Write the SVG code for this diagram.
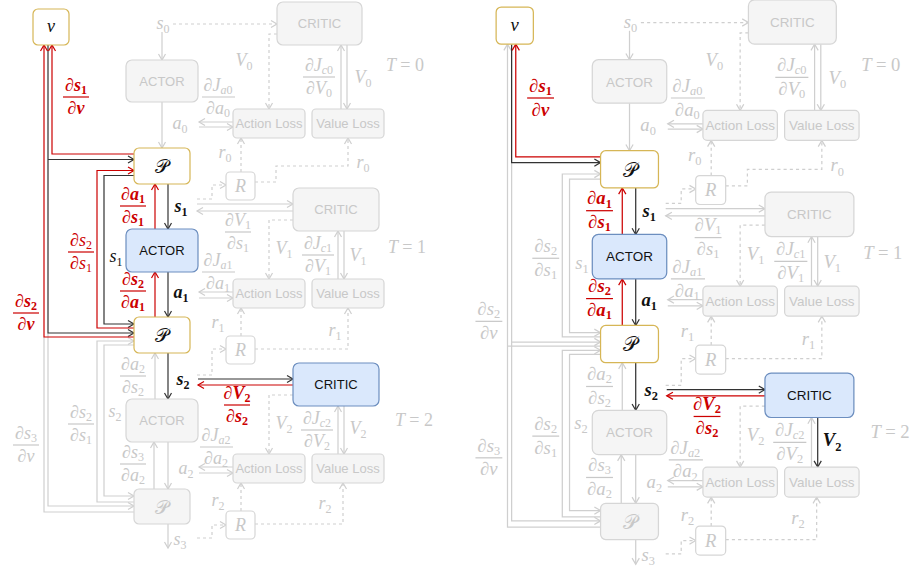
<svg xmlns="http://www.w3.org/2000/svg" width="912" height="571" viewBox="0 0 912 571">
<style>
.bg{fill:#fff}
.nd rect{stroke-width:1.2}
.gn rect{fill:#f5f5f5;stroke:#d6d6d6}
.wn rect{fill:#fff;stroke:#d6d6d6}
.au rect{fill:#fff;stroke:#d6b656}
.bl rect{fill:#dae8fc;stroke:#6c8ebf}
.sf{font-family:"Liberation Sans",Arial,sans-serif;font-size:13px;text-anchor:middle}
.gn .sf,.wn .m{fill:#c8c8c8}
.bl .sf{fill:#111}
.m{font-family:"Liberation Serif","DejaVu Serif",serif;font-style:italic;font-size:18px;text-anchor:middle}
.sb{font-size:12px;font-style:normal}
.si{font-style:italic}
.cp{font-family:"DejaVu Serif","DejaVu Sans","Noto Sans",serif;font-size:19px;font-style:normal;text-anchor:middle}
.gt{fill:#c8c8c8}.kt{fill:#111}.rt{fill:#cc0000}
.b{font-weight:bold}
.fl{stroke-width:1.2}
.gt line,line.gt{stroke:#c8c8c8}
.rt line,line.rt{stroke:#cc0000}
.c path{fill:none;stroke-width:1.2}
.cg path{stroke:#cfcfcf}
.cd path{stroke:#cfcfcf;stroke-dasharray:3 3}
.ck path{stroke:#333}
.cr path{stroke:#cc0000}
</style>
<defs>
<marker id="ag" viewBox="-8 -5 10 10" refX="0" refY="0" markerWidth="10" markerHeight="10" markerUnits="userSpaceOnUse" orient="auto"><path d="M-6,-3.5 L0,0 L-6,3.5" fill="none" stroke="#cfcfcf" stroke-width="1.2"/></marker>
<marker id="ak" viewBox="-8 -5 10 10" refX="0" refY="0" markerWidth="10" markerHeight="10" markerUnits="userSpaceOnUse" orient="auto"><path d="M-6,-3.5 L0,0 L-6,3.5" fill="none" stroke="#333" stroke-width="1.2"/></marker>
<marker id="ar" viewBox="-8 -5 10 10" refX="0" refY="0" markerWidth="10" markerHeight="10" markerUnits="userSpaceOnUse" orient="auto"><path d="M-6,-3.5 L0,0 L-6,3.5" fill="none" stroke="#cc0000" stroke-width="1.2"/></marker>
</defs>
<rect class="bg" width="912" height="571"/>

<!-- ================= LEFT PANEL ================= -->
<g id="left-panel">
<g id="L-connectors" class="c">
 <g class="cg">
  <path d="M162,32 V60" marker-end="url(#ag)"/>
  <path d="M162,102 V148" marker-end="url(#ag)"/>
  <path d="M233,122 H199" marker-end="url(#ag)"/>
  <path d="M199,127 H233" marker-end="url(#ag)"/>
  <path d="M341,109 V45" marker-end="url(#ag)"/>
  <path d="M347,45 V109" marker-end="url(#ag)"/>
  <path d="M197,204 H293" marker-end="url(#ag)"/>
  <path d="M293,211 H197" marker-end="url(#ag)"/>
  <path d="M338,279 V231" marker-end="url(#ag)"/>
  <path d="M344,231 V279" marker-end="url(#ag)"/>
  <path d="M233,292 H199" marker-end="url(#ag)"/>
  <path d="M199,298 H233" marker-end="url(#ag)"/>
  <path d="M338,454 V406" marker-end="url(#ag)"/>
  <path d="M344,406 V454" marker-end="url(#ag)"/>
  <path d="M233,467 H199" marker-end="url(#ag)"/>
  <path d="M199,473 H233" marker-end="url(#ag)"/>
  <path d="M155,399 V353" marker-end="url(#ag)"/>
  <path d="M168,442 V489" marker-end="url(#ag)"/>
  <path d="M154,489 V442" marker-end="url(#ag)"/>
  <path d="M168,524 V548" marker-end="url(#ag)"/>
  <path d="M134,345 H104 V496 H134" marker-end="url(#ag)"/>
  <path d="M134,502 H97 V341 H134" marker-end="url(#ag)"/>
  <path d="M48,333 V506 H134" marker-end="url(#ag)"/>
  <path d="M134,512 H44 V337"/>
 </g>
 <g class="cd">
  <path d="M173,24 H277" marker-end="url(#ag)"/>
  <path d="M277,34 H269 V109" marker-end="url(#ag)"/>
  <path d="M241,172 V138" marker-end="url(#ag)"/>
  <path d="M255,182 H276 V166 H348 V138" marker-end="url(#ag)"/>
  <path d="M197,199 H212 V185 H226" marker-end="url(#ag)"/>
  <path d="M293,220 H269 V279" marker-end="url(#ag)"/>
  <path d="M241,336 V308" marker-end="url(#ag)"/>
  <path d="M255,349 H348 V308" marker-end="url(#ag)"/>
  <path d="M197,375 H212 V349 H226" marker-end="url(#ag)"/>
  <path d="M293,395 H269 V454" marker-end="url(#ag)"/>
  <path d="M241,511 V483" marker-end="url(#ag)"/>
  <path d="M255,524 H343 V483" marker-end="url(#ag)"/>
  <path d="M197,538 H212 V525 H226" marker-end="url(#ag)"/>
 </g>
 <g class="ck">
  <path d="M48,45 V333 H134" marker-end="url(#ak)"/>
  <path d="M48,159.5 H134" marker-end="url(#ak)"/>
  <path d="M134,175.5 H104 V324 H134" marker-end="url(#ak)"/>
  <path d="M168,184 V229" marker-end="url(#ak)"/>
  <path d="M168,272 V317" marker-end="url(#ak)"/>
  <path d="M168,353 V399" marker-end="url(#ak)"/>
  <path d="M198,379 H293" marker-end="url(#ak)"/>
 </g>
 <g class="cr">
  <path d="M134,154 H52 V45" marker-end="url(#ar)"/>
  <path d="M134,337 H44 V45" marker-end="url(#ar)"/>
  <path d="M134,328 H97 V170.5 H134" marker-end="url(#ar)"/>
  <path d="M155,229 V184" marker-end="url(#ar)"/>
  <path d="M155,317 V272" marker-end="url(#ar)"/>
  <path d="M293,385 H198" marker-end="url(#ar)"/>
 </g>
</g>

<g id="L-v" class="nd au"><rect x="33" y="9" width="36" height="36" rx="5"/><text class="m kt" x="51" y="32">v</text></g>
<g id="L-actor0" class="nd gn"><rect x="126" y="60" width="72" height="42" rx="6"/><text class="sf" x="162" y="86">ACTOR</text></g>
<g id="L-p1" class="nd au"><rect x="134" y="148" width="56" height="36" rx="5"/><text class="cp kt" x="162" y="173">𝒫</text></g>
<g id="L-critic0" class="nd gn"><rect x="277" y="2" width="85" height="43" rx="6"/><text class="sf" x="319.5" y="28">CRITIC</text></g>
<g id="L-actionloss0" class="nd gn"><rect x="233" y="109" width="72" height="29" rx="4"/><text class="sf" x="269" y="128">Action Loss</text></g>
<g id="L-valueloss0" class="nd gn"><rect x="312" y="109" width="72" height="29" rx="4"/><text class="sf" x="348" y="128">Value Loss</text></g>
<g id="L-r1" class="nd wn"><rect x="226" y="172" width="29" height="28" rx="4"/><text class="m" x="240.5" y="192">R</text></g>
<g id="L-critic1" class="nd gn"><rect x="293" y="188" width="86" height="43" rx="6"/><text class="sf" x="336" y="214">CRITIC</text></g>
<g id="L-actor1" class="nd bl"><rect x="126" y="229" width="72" height="43" rx="6"/><text class="sf" x="162" y="255">ACTOR</text></g>
<g id="L-actionloss1" class="nd gn"><rect x="233" y="279" width="72" height="29" rx="4"/><text class="sf" x="269" y="298">Action Loss</text></g>
<g id="L-valueloss1" class="nd gn"><rect x="312" y="279" width="72" height="29" rx="4"/><text class="sf" x="348" y="298">Value Loss</text></g>
<g id="L-p2" class="nd au"><rect x="134" y="317" width="56" height="36" rx="5"/><text class="cp kt" x="162" y="342">𝒫</text></g>
<g id="L-r2" class="nd wn"><rect x="226" y="336" width="29" height="28" rx="4"/><text class="m" x="240.5" y="356">R</text></g>
<g id="L-critic2" class="nd bl"><rect x="293" y="363" width="86" height="43" rx="6"/><text class="sf" x="336" y="389">CRITIC</text></g>
<g id="L-actor2" class="nd gn"><rect x="126" y="399" width="72" height="43" rx="6"/><text class="sf" x="162" y="425">ACTOR</text></g>
<g id="L-actionloss2" class="nd gn"><rect x="233" y="454" width="72" height="29" rx="4"/><text class="sf" x="269" y="473">Action Loss</text></g>
<g id="L-valueloss2" class="nd gn"><rect x="312" y="454" width="72" height="29" rx="4"/><text class="sf" x="348" y="473">Value Loss</text></g>
<g id="L-p3" class="nd gn"><rect x="134" y="489" width="56" height="35" rx="5"/><text class="cp gt" x="162" y="514">𝒫</text></g>
<g id="L-r3" class="nd wn"><rect x="226" y="511" width="29" height="28" rx="4"/><text class="m" x="240.5" y="531">R</text></g>

<g id="L-labels">
 <text class="m gt" x="163" y="29">s<tspan class="sb" dy="4">0</tspan></text>
 <text class="m gt" x="244" y="66">V<tspan class="sb" dy="4">0</tspan></text>
 <g class="gt"><text class="m" x="319" y="71">∂J<tspan class="sb" dy="3"><tspan class="si">c</tspan>0</tspan></text><line class="fl" x1="303" y1="77" x2="335" y2="77"/><text class="m" x="319" y="94">∂V<tspan class="sb" dy="3">0</tspan></text></g>
 <text class="m gt" x="363" y="83">V<tspan class="sb" dy="4">0</tspan></text>
 <text class="m gt" x="405" y="71">T <tspan font-style="normal">= 0</tspan></text>
 <g class="gt"><text class="m" x="218" y="91">∂J<tspan class="sb" dy="3"><tspan class="si">a</tspan>0</tspan></text><line class="fl" x1="202" y1="97" x2="235" y2="97"/><text class="m" x="218" y="114">∂a<tspan class="sb" dy="3">0</tspan></text></g>
 <text class="m gt" x="180" y="129">a<tspan class="sb" dy="4">0</tspan></text>
 <text class="m gt" x="225" y="158">r<tspan class="sb" dy="4">0</tspan></text>
 <text class="m gt" x="363" y="168">r<tspan class="sb" dy="4">0</tspan></text>

 <g class="rt b"><text class="m" x="76" y="91">∂s<tspan class="sb" dy="3">1</tspan></text><line class="fl" x1="63" y1="97" x2="89" y2="97"/><text class="m" x="76" y="114">∂v</text></g>
 <g class="rt b"><text class="m" x="133" y="200">∂a<tspan class="sb" dy="3">1</tspan></text><line class="fl" x1="120" y1="206" x2="146" y2="206"/><text class="m" x="133" y="223">∂s<tspan class="sb" dy="3">1</tspan></text></g>
 <text class="m kt b" x="181" y="212">s<tspan class="sb" dy="4">1</tspan></text>
 <g class="gt"><text class="m" x="238" y="226">∂V<tspan class="sb" dy="3">1</tspan></text><line class="fl" x1="225" y1="232" x2="251" y2="232"/><text class="m" x="238" y="249">∂s<tspan class="sb" dy="3">1</tspan></text></g>
 <text class="m gt" x="284" y="254">V<tspan class="sb" dy="4">1</tspan></text>
 <g class="gt"><text class="m" x="318" y="249">∂J<tspan class="sb" dy="3"><tspan class="si">c</tspan>1</tspan></text><line class="fl" x1="302" y1="255" x2="334" y2="255"/><text class="m" x="318" y="272">∂V<tspan class="sb" dy="3">1</tspan></text></g>
 <text class="m gt" x="358" y="261">V<tspan class="sb" dy="4">1</tspan></text>
 <text class="m gt" x="407" y="253">T <tspan font-style="normal">= 1</tspan></text>
 <g class="rt"><text class="m" x="81" y="246">∂s<tspan class="sb" dy="3">2</tspan></text><line class="fl" x1="68" y1="252" x2="94" y2="252"/><text class="m" x="81" y="269">∂s<tspan class="sb" dy="3">1</tspan></text></g>
 <text class="m kt" x="116" y="262">s<tspan class="sb" dy="4">1</tspan></text>
 <g class="gt"><text class="m" x="218" y="266">∂J<tspan class="sb" dy="3"><tspan class="si">a</tspan>1</tspan></text><line class="fl" x1="202" y1="272" x2="235" y2="272"/><text class="m" x="218" y="289">∂a<tspan class="sb" dy="3">1</tspan></text></g>
 <g class="rt b"><text class="m" x="133" y="285">∂s<tspan class="sb" dy="3">2</tspan></text><line class="fl" x1="120" y1="291" x2="146" y2="291"/><text class="m" x="133" y="308">∂a<tspan class="sb" dy="3">1</tspan></text></g>
 <text class="m kt b" x="181" y="298">a<tspan class="sb" dy="4">1</tspan></text>
 <g class="rt b"><text class="m" x="26" y="307">∂s<tspan class="sb" dy="3">2</tspan></text><line class="fl" x1="13" y1="313" x2="39" y2="313"/><text class="m" x="26" y="330">∂v</text></g>
 <text class="m gt" x="218" y="328">r<tspan class="sb" dy="4">1</tspan></text>
 <text class="m gt" x="335" y="336">r<tspan class="sb" dy="4">1</tspan></text>

 <g class="gt"><text class="m" x="133" y="370">∂a<tspan class="sb" dy="3">2</tspan></text><line class="fl" x1="120" y1="376" x2="146" y2="376"/><text class="m" x="133" y="393">∂s<tspan class="sb" dy="3">2</tspan></text></g>
 <text class="m kt b" x="183" y="385">s<tspan class="sb" dy="4">2</tspan></text>
 <g class="rt b"><text class="m" x="237" y="399">∂V<tspan class="sb" dy="3">2</tspan></text><line class="fl" x1="224" y1="405" x2="250" y2="405"/><text class="m" x="237" y="422">∂s<tspan class="sb" dy="3">2</tspan></text></g>
 <text class="m gt" x="115" y="417">s<tspan class="sb" dy="4">2</tspan></text>
 <g class="gt"><text class="m" x="81" y="418">∂s<tspan class="sb" dy="3">2</tspan></text><line class="fl" x1="68" y1="424" x2="94" y2="424"/><text class="m" x="81" y="441">∂s<tspan class="sb" dy="3">1</tspan></text></g>
 <text class="m gt" x="284" y="429">V<tspan class="sb" dy="4">2</tspan></text>
 <g class="gt"><text class="m" x="317" y="424">∂J<tspan class="sb" dy="3"><tspan class="si">c</tspan>2</tspan></text><line class="fl" x1="301" y1="430" x2="333" y2="430"/><text class="m" x="317" y="447">∂V<tspan class="sb" dy="3">2</tspan></text></g>
 <text class="m gt" x="358" y="434">V<tspan class="sb" dy="4">2</tspan></text>
 <text class="m gt" x="414" y="426">T <tspan font-style="normal">= 2</tspan></text>
 <g class="gt"><text class="m" x="26" y="439">∂s<tspan class="sb" dy="3">3</tspan></text><line class="fl" x1="13" y1="445" x2="39" y2="445"/><text class="m" x="26" y="462">∂v</text></g>
 <g class="gt"><text class="m" x="216" y="441">∂J<tspan class="sb" dy="3"><tspan class="si">a</tspan>2</tspan></text><line class="fl" x1="200" y1="447" x2="233" y2="447"/><text class="m" x="216" y="464">∂a<tspan class="sb" dy="3">2</tspan></text></g>
 <g class="gt"><text class="m" x="133" y="458">∂s<tspan class="sb" dy="3">3</tspan></text><line class="fl" x1="120" y1="464" x2="146" y2="464"/><text class="m" x="133" y="481">∂a<tspan class="sb" dy="3">2</tspan></text></g>
 <text class="m gt" x="186" y="474">a<tspan class="sb" dy="4">2</tspan></text>
 <text class="m gt" x="218" y="506">r<tspan class="sb" dy="4">2</tspan></text>
 <text class="m gt" x="325" y="509">r<tspan class="sb" dy="4">2</tspan></text>
 <text class="m gt" x="180" y="545">s<tspan class="sb" dy="4">3</tspan></text>
</g>
</g>

<!-- ================= RIGHT PANEL ================= -->
<g id="right-panel" transform="translate(462,-2.3) scale(1.034)">
<g id="R-connectors" class="c">
 <g class="cg">
  <path d="M162,32 V60" marker-end="url(#ag)"/>
  <path d="M162,102 V148" marker-end="url(#ag)"/>
  <path d="M233,122 H199" marker-end="url(#ag)"/>
  <path d="M199,127 H233" marker-end="url(#ag)"/>
  <path d="M341,109 V45" marker-end="url(#ag)"/>
  <path d="M347,45 V109" marker-end="url(#ag)"/>
  <path d="M197,204 H293" marker-end="url(#ag)"/>
  <path d="M293,211 H197" marker-end="url(#ag)"/>
  <path d="M338,279 V231" marker-end="url(#ag)"/>
  <path d="M344,231 V279" marker-end="url(#ag)"/>
  <path d="M233,292 H199" marker-end="url(#ag)"/>
  <path d="M199,298 H233" marker-end="url(#ag)"/>
  <path d="M338,454 V406" marker-end="url(#ag)"/>
  <path d="M233,467 H199" marker-end="url(#ag)"/>
  <path d="M199,473 H233" marker-end="url(#ag)"/>
  <path d="M155,399 V353" marker-end="url(#ag)"/>
  <path d="M168,442 V489" marker-end="url(#ag)"/>
  <path d="M154,489 V442" marker-end="url(#ag)"/>
  <path d="M168,524 V548" marker-end="url(#ag)"/>
  <path d="M134,345 H104 V496 H134" marker-end="url(#ag)"/>
  <path d="M134,502 H97 V341 H134" marker-end="url(#ag)"/>
  <path d="M48,159.5 V506 H134" marker-end="url(#ag)"/>
  <path d="M48,333 H134" marker-end="url(#ag)"/>
  <path d="M134,512 H44 V45" marker-end="url(#ag)"/>
  <path d="M134,337 H44"/>
  <path d="M134,328 H97 V170.5 H134" marker-end="url(#ag)"/>
  <path d="M134,175.5 H104 V324 H134" marker-end="url(#ag)"/>
 </g>
 <g class="cd">
  <path d="M173,24 H277" marker-end="url(#ag)"/>
  <path d="M277,34 H269 V109" marker-end="url(#ag)"/>
  <path d="M241,172 V138" marker-end="url(#ag)"/>
  <path d="M255,182 H276 V166 H348 V138" marker-end="url(#ag)"/>
  <path d="M197,199 H212 V185 H226" marker-end="url(#ag)"/>
  <path d="M293,220 H269 V279" marker-end="url(#ag)"/>
  <path d="M241,336 V308" marker-end="url(#ag)"/>
  <path d="M255,349 H348 V308" marker-end="url(#ag)"/>
  <path d="M197,375 H212 V349 H226" marker-end="url(#ag)"/>
  <path d="M293,395 H269 V454" marker-end="url(#ag)"/>
  <path d="M241,511 V483" marker-end="url(#ag)"/>
  <path d="M255,524 H343 V483" marker-end="url(#ag)"/>
  <path d="M197,538 H212 V525 H226" marker-end="url(#ag)"/>
 </g>
 <g class="ck">
  <path d="M48,45 V159.5 H134" marker-end="url(#ak)"/>
  <path d="M168,184 V229" marker-end="url(#ak)"/>
  <path d="M168,272 V317" marker-end="url(#ak)"/>
  <path d="M168,353 V399" marker-end="url(#ak)"/>
  <path d="M198,379 H293" marker-end="url(#ak)"/>
  <path d="M344,406 V454" marker-end="url(#ak)"/>
 </g>
 <g class="cr">
  <path d="M134,154 H52 V45" marker-end="url(#ar)"/>
  <path d="M155,229 V184" marker-end="url(#ar)"/>
  <path d="M155,317 V272" marker-end="url(#ar)"/>
  <path d="M293,385 H198" marker-end="url(#ar)"/>
 </g>
</g>

<g id="R-v" class="nd au"><rect x="33" y="9" width="36" height="36" rx="5"/><text class="m kt" x="51" y="32">v</text></g>
<g id="R-actor0" class="nd gn"><rect x="126" y="60" width="72" height="42" rx="6"/><text class="sf" x="162" y="86">ACTOR</text></g>
<g id="R-p1" class="nd au"><rect x="134" y="148" width="56" height="36" rx="5"/><text class="cp kt" x="162" y="173">𝒫</text></g>
<g id="R-critic0" class="nd gn"><rect x="277" y="2" width="85" height="43" rx="6"/><text class="sf" x="319.5" y="28">CRITIC</text></g>
<g id="R-actionloss0" class="nd gn"><rect x="233" y="109" width="72" height="29" rx="4"/><text class="sf" x="269" y="128">Action Loss</text></g>
<g id="R-valueloss0" class="nd gn"><rect x="312" y="109" width="72" height="29" rx="4"/><text class="sf" x="348" y="128">Value Loss</text></g>
<g id="R-r1" class="nd wn"><rect x="226" y="172" width="29" height="28" rx="4"/><text class="m" x="240.5" y="192">R</text></g>
<g id="R-critic1" class="nd gn"><rect x="293" y="188" width="86" height="43" rx="6"/><text class="sf" x="336" y="214">CRITIC</text></g>
<g id="R-actor1" class="nd bl"><rect x="126" y="229" width="72" height="43" rx="6"/><text class="sf" x="162" y="255">ACTOR</text></g>
<g id="R-actionloss1" class="nd gn"><rect x="233" y="279" width="72" height="29" rx="4"/><text class="sf" x="269" y="298">Action Loss</text></g>
<g id="R-valueloss1" class="nd gn"><rect x="312" y="279" width="72" height="29" rx="4"/><text class="sf" x="348" y="298">Value Loss</text></g>
<g id="R-p2" class="nd au"><rect x="134" y="317" width="56" height="36" rx="5"/><text class="cp kt" x="162" y="342">𝒫</text></g>
<g id="R-r2" class="nd wn"><rect x="226" y="336" width="29" height="28" rx="4"/><text class="m" x="240.5" y="356">R</text></g>
<g id="R-critic2" class="nd bl"><rect x="293" y="363" width="86" height="43" rx="6"/><text class="sf" x="336" y="389">CRITIC</text></g>
<g id="R-actor2" class="nd gn"><rect x="126" y="399" width="72" height="43" rx="6"/><text class="sf" x="162" y="425">ACTOR</text></g>
<g id="R-actionloss2" class="nd gn"><rect x="233" y="454" width="72" height="29" rx="4"/><text class="sf" x="269" y="473">Action Loss</text></g>
<g id="R-valueloss2" class="nd gn"><rect x="312" y="454" width="72" height="29" rx="4"/><text class="sf" x="348" y="473">Value Loss</text></g>
<g id="R-p3" class="nd gn"><rect x="134" y="489" width="56" height="35" rx="5"/><text class="cp gt" x="162" y="514">𝒫</text></g>
<g id="R-r3" class="nd wn"><rect x="226" y="511" width="29" height="28" rx="4"/><text class="m" x="240.5" y="531">R</text></g>

<g id="R-labels">
 <text class="m gt" x="163" y="29">s<tspan class="sb" dy="4">0</tspan></text>
 <text class="m gt" x="244" y="66">V<tspan class="sb" dy="4">0</tspan></text>
 <g class="gt"><text class="m" x="319" y="71">∂J<tspan class="sb" dy="3"><tspan class="si">c</tspan>0</tspan></text><line class="fl" x1="303" y1="77" x2="335" y2="77"/><text class="m" x="319" y="94">∂V<tspan class="sb" dy="3">0</tspan></text></g>
 <text class="m gt" x="363" y="83">V<tspan class="sb" dy="4">0</tspan></text>
 <text class="m gt" x="405" y="71">T <tspan font-style="normal">= 0</tspan></text>
 <g class="gt"><text class="m" x="218" y="91">∂J<tspan class="sb" dy="3"><tspan class="si">a</tspan>0</tspan></text><line class="fl" x1="202" y1="97" x2="235" y2="97"/><text class="m" x="218" y="114">∂a<tspan class="sb" dy="3">0</tspan></text></g>
 <text class="m gt" x="180" y="129">a<tspan class="sb" dy="4">0</tspan></text>
 <text class="m gt" x="225" y="158">r<tspan class="sb" dy="4">0</tspan></text>
 <text class="m gt" x="363" y="168">r<tspan class="sb" dy="4">0</tspan></text>

 <g class="rt b"><text class="m" x="76" y="91">∂s<tspan class="sb" dy="3">1</tspan></text><line class="fl" x1="63" y1="97" x2="89" y2="97"/><text class="m" x="76" y="114">∂v</text></g>
 <g class="rt b"><text class="m" x="133" y="200">∂a<tspan class="sb" dy="3">1</tspan></text><line class="fl" x1="120" y1="206" x2="146" y2="206"/><text class="m" x="133" y="223">∂s<tspan class="sb" dy="3">1</tspan></text></g>
 <text class="m kt b" x="181" y="212">s<tspan class="sb" dy="4">1</tspan></text>
 <g class="gt"><text class="m" x="238" y="226">∂V<tspan class="sb" dy="3">1</tspan></text><line class="fl" x1="225" y1="232" x2="251" y2="232"/><text class="m" x="238" y="249">∂s<tspan class="sb" dy="3">1</tspan></text></g>
 <text class="m gt" x="284" y="254">V<tspan class="sb" dy="4">1</tspan></text>
 <g class="gt"><text class="m" x="318" y="249">∂J<tspan class="sb" dy="3"><tspan class="si">c</tspan>1</tspan></text><line class="fl" x1="302" y1="255" x2="334" y2="255"/><text class="m" x="318" y="272">∂V<tspan class="sb" dy="3">1</tspan></text></g>
 <text class="m gt" x="358" y="261">V<tspan class="sb" dy="4">1</tspan></text>
 <text class="m gt" x="407" y="253">T <tspan font-style="normal">= 1</tspan></text>
 <g class="gt"><text class="m" x="81" y="246">∂s<tspan class="sb" dy="3">2</tspan></text><line class="fl" x1="68" y1="252" x2="94" y2="252"/><text class="m" x="81" y="269">∂s<tspan class="sb" dy="3">1</tspan></text></g>
 <text class="m gt" x="116" y="262">s<tspan class="sb" dy="4">1</tspan></text>
 <g class="gt"><text class="m" x="218" y="266">∂J<tspan class="sb" dy="3"><tspan class="si">a</tspan>1</tspan></text><line class="fl" x1="202" y1="272" x2="235" y2="272"/><text class="m" x="218" y="289">∂a<tspan class="sb" dy="3">1</tspan></text></g>
 <g class="rt b"><text class="m" x="133" y="285">∂s<tspan class="sb" dy="3">2</tspan></text><line class="fl" x1="120" y1="291" x2="146" y2="291"/><text class="m" x="133" y="308">∂a<tspan class="sb" dy="3">1</tspan></text></g>
 <text class="m kt b" x="181" y="298">a<tspan class="sb" dy="4">1</tspan></text>
 <g class="gt"><text class="m" x="26" y="307">∂s<tspan class="sb" dy="3">2</tspan></text><line class="fl" x1="13" y1="313" x2="39" y2="313"/><text class="m" x="26" y="330">∂v</text></g>
 <text class="m gt" x="218" y="328">r<tspan class="sb" dy="4">1</tspan></text>
 <text class="m gt" x="335" y="336">r<tspan class="sb" dy="4">1</tspan></text>

 <g class="gt"><text class="m" x="133" y="370">∂a<tspan class="sb" dy="3">2</tspan></text><line class="fl" x1="120" y1="376" x2="146" y2="376"/><text class="m" x="133" y="393">∂s<tspan class="sb" dy="3">2</tspan></text></g>
 <text class="m kt b" x="183" y="385">s<tspan class="sb" dy="4">2</tspan></text>
 <g class="rt b"><text class="m" x="237" y="399">∂V<tspan class="sb" dy="3">2</tspan></text><line class="fl" x1="224" y1="405" x2="250" y2="405"/><text class="m" x="237" y="422">∂s<tspan class="sb" dy="3">2</tspan></text></g>
 <text class="m gt" x="115" y="417">s<tspan class="sb" dy="4">2</tspan></text>
 <g class="gt"><text class="m" x="81" y="418">∂s<tspan class="sb" dy="3">2</tspan></text><line class="fl" x1="68" y1="424" x2="94" y2="424"/><text class="m" x="81" y="441">∂s<tspan class="sb" dy="3">1</tspan></text></g>
 <text class="m gt" x="284" y="429">V<tspan class="sb" dy="4">2</tspan></text>
 <g class="gt"><text class="m" x="317" y="424">∂J<tspan class="sb" dy="3"><tspan class="si">c</tspan>2</tspan></text><line class="fl" x1="301" y1="430" x2="333" y2="430"/><text class="m" x="317" y="447">∂V<tspan class="sb" dy="3">2</tspan></text></g>
 <text class="m kt b" x="358" y="434">V<tspan class="sb" dy="4">2</tspan></text>
 <text class="m gt" x="414" y="426">T <tspan font-style="normal">= 2</tspan></text>
 <g class="gt"><text class="m" x="26" y="439">∂s<tspan class="sb" dy="3">3</tspan></text><line class="fl" x1="13" y1="445" x2="39" y2="445"/><text class="m" x="26" y="462">∂v</text></g>
 <g class="gt"><text class="m" x="216" y="441">∂J<tspan class="sb" dy="3"><tspan class="si">a</tspan>2</tspan></text><line class="fl" x1="200" y1="447" x2="233" y2="447"/><text class="m" x="216" y="464">∂a<tspan class="sb" dy="3">2</tspan></text></g>
 <g class="gt"><text class="m" x="133" y="458">∂s<tspan class="sb" dy="3">3</tspan></text><line class="fl" x1="120" y1="464" x2="146" y2="464"/><text class="m" x="133" y="481">∂a<tspan class="sb" dy="3">2</tspan></text></g>
 <text class="m gt" x="186" y="474">a<tspan class="sb" dy="4">2</tspan></text>
 <text class="m gt" x="218" y="506">r<tspan class="sb" dy="4">2</tspan></text>
 <text class="m gt" x="325" y="509">r<tspan class="sb" dy="4">2</tspan></text>
 <text class="m gt" x="180" y="545">s<tspan class="sb" dy="4">3</tspan></text>
</g>
</g>
</svg>
